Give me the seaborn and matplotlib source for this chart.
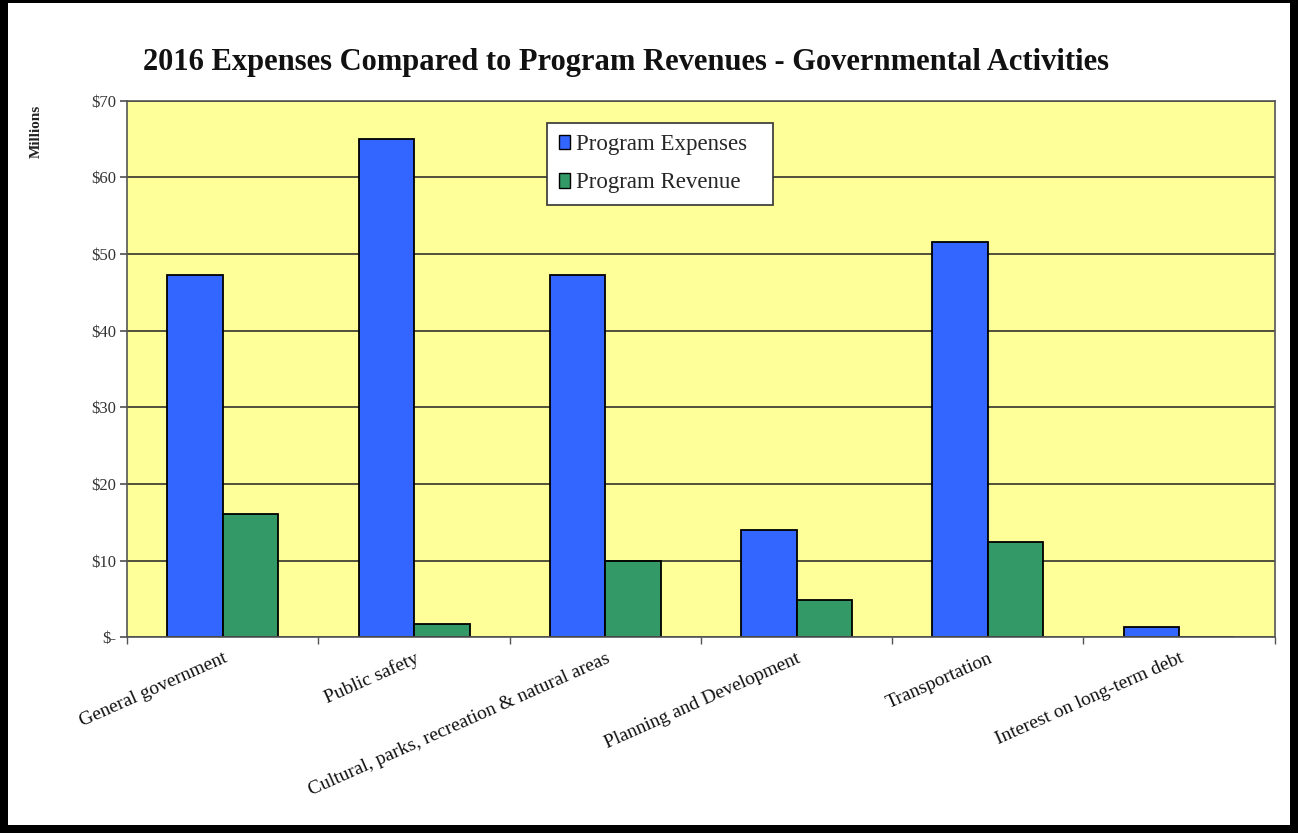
import matplotlib
matplotlib.use("Agg")
import matplotlib.pyplot as plt
from matplotlib.patches import Rectangle
from matplotlib.ticker import FixedLocator, FuncFormatter
import seaborn as sns
import pandas as pd

categories = [
    "General government",
    "Public safety",
    "Cultural, parks, recreation & natural areas",
    "Planning and Development",
    "Transportation",
    "Interest on long-term debt",
]
expenses = [47.3, 65.0, 47.3, 14.0, 51.6, 1.4]
revenue = [16.1, 1.7, 9.9, 4.8, 12.4, 0.0]
series_names = ["Program Expenses", "Program Revenue"]
y_ticks = [0, 10, 20, 30, 40, 50, 60, 70]

df = pd.DataFrame({
    "category": categories * 2,
    "value": expenses + revenue,
    "series": [series_names[0]] * len(categories) + [series_names[1]] * len(categories),
})

sns.set_theme(style="white")
plt.rcParams["font.family"] = ["Liberation Serif", "DejaVu Serif"]

fig = plt.figure(figsize=(12.98, 8.33), dpi=100)
ax = fig.add_axes([0.098, 0.235, 0.884, 0.644])
ax.set_facecolor("#FFFF99")

# horizontal gridlines behind the bars
ax.set_axisbelow(True)
ax.yaxis.grid(True, color="#222222", linewidth=1.1)
ax.xaxis.grid(False)

sns.barplot(
    data=df, x="category", y="value", hue="series", ax=ax,
    palette=["#3366FF", "#339966"], edgecolor="black", linewidth=1.3,
    width=0.58, gap=0, saturation=1, errorbar=None,
)

ax.set_xlim(-0.5, len(categories) - 0.5)
ax.set_ylim(0, 70)
ax.yaxis.set_major_locator(FixedLocator(y_ticks))
ax.yaxis.set_major_formatter(FuncFormatter(lambda v, p: "$-" if v == 0 else f"${int(v)}"))

# category boundary ticks below the axis
ax.tick_params(axis="x", which="major", length=0, pad=9)
ax.xaxis.set_minor_locator(FixedLocator([i + 0.5 for i in range(-1, len(categories))]))
ax.tick_params(axis="x", which="minor", length=5, color="#555555", direction="out", bottom=True)
ax.tick_params(axis="y", which="major", length=5, color="#555555", direction="out", left=True,
               labelsize=12, labelcolor="#333333", pad=3)
ax.set_xticks(range(len(categories)))
ax.set_xticklabels(categories, rotation=24, ha="right", rotation_mode="anchor",
                   fontsize=14, color="#111111")

for side in ["left", "right", "top", "bottom"]:
    ax.spines[side].set_visible(True)
    ax.spines[side].set_color("#555555")
    ax.spines[side].set_linewidth(1.2)

ax.set_xlabel("")
ax.set_ylabel("")
fig.text(0.028, 0.842, "Millions", rotation=90, fontsize=11, fontweight="bold",
         ha="center", va="center", color="#222222")

ax.set_title("")
fig.text(0.482, 0.925, "2016 Expenses Compared to Program Revenues - Governmental Activities",
         fontsize=22, fontweight="bold", ha="center", va="center", color="#111111")

# legend box stretched to a fixed width
leg = ax.legend(loc="upper left", bbox_to_anchor=(0.366, 0.959, 0.197, 0.0), mode="expand",
                frameon=True, fancybox=False, edgecolor="#333333", facecolor="white",
                framealpha=1, fontsize=16.5, handlelength=0.5, handleheight=0.6,
                handletextpad=0.25, labelspacing=0.75, borderpad=0.5, borderaxespad=0,
                title=None)
leg.get_frame().set_linewidth(1.2)
for h in leg.legend_handles:
    h.set_edgecolor("black")
    h.set_linewidth(1.0)

# heavy frame around the whole figure
W, H = 1298, 833
for (x0, y0, w, h) in [(0, 0, 8, H), (W - 8, 0, 8, H), (0, 0, W, 8), (0, H - 3, W, 3)]:
    fig.patches.append(Rectangle((x0 / W, y0 / H), w / W, h / H, transform=fig.transFigure,
                                 facecolor="black", edgecolor="none", zorder=10))

fig.savefig("out.png", dpi=100, facecolor="white")
